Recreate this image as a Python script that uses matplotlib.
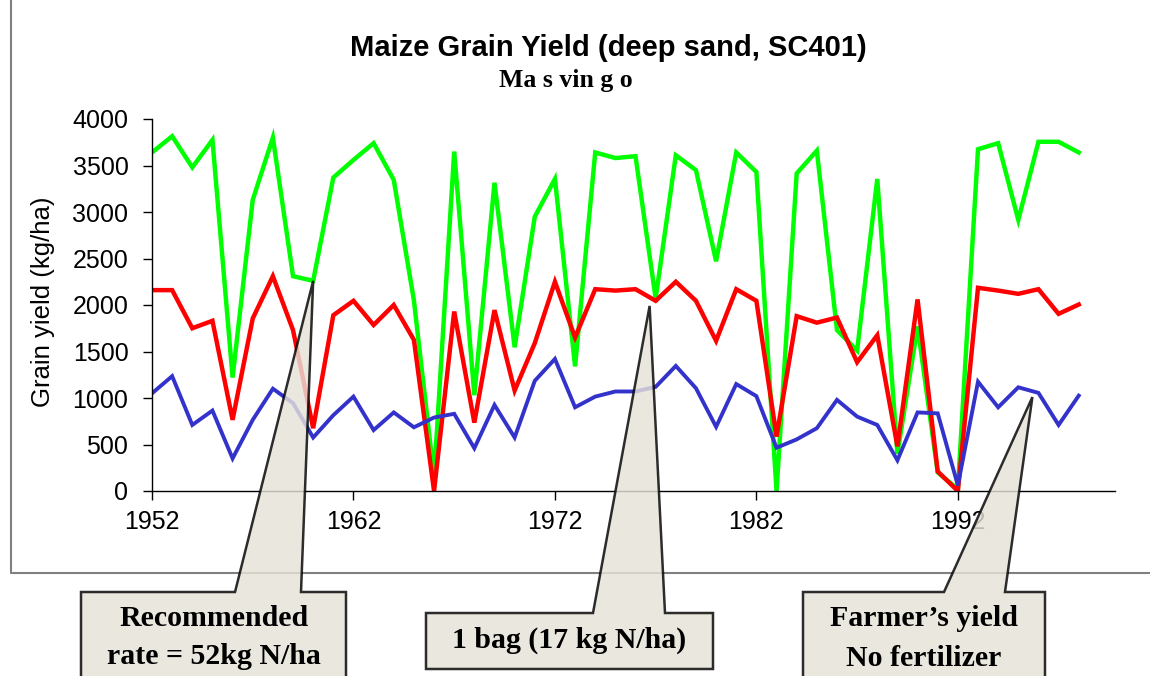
import matplotlib.pyplot as plt
from matplotlib.patches import Polygon
from matplotlib.lines import Line2D

# yearly grain yield, kg/ha
years = list(range(1952, 1999))
recommended = [3640, 3815, 3480, 3775, 1220, 3130, 3800, 2310, 2260, 3370,
               3560, 3740, 3345, 2050, 150, 3650, 1030, 3315, 1545, 2950,
               3355, 1340, 3640, 3580, 3600, 2070, 3610, 3450, 2470, 3640,
               3430, 0, 3415, 3660, 1730, 1510, 3355, 400, 1770, 200,
               20, 3675, 3740, 2915, 3755, 3755, 3640]
one_bag = [2160, 2160, 1750, 1830, 765, 1855, 2310, 1730, 675, 1890,
           2045, 1785, 2000, 1625, 0, 1930, 735, 1945, 1080, 1590,
           2250, 1650, 2170, 2155, 2170, 2045, 2250, 2045, 1615, 2170,
           2045, 585, 1880, 1810, 1865, 1385, 1675, 480, 2060, 210,
           0, 2185, 2155, 2120, 2170, 1905, 2005]
farmer = [1050, 1235, 710, 865, 350, 765, 1100, 945, 575, 815,
          1015, 655, 845, 685, 790, 830, 460, 925, 575, 1185,
          1420, 900, 1015, 1070, 1070, 1120, 1345, 1105, 690, 1150,
          1020, 465, 555, 675, 980, 800, 710, 330, 845, 835,
          60, 1175, 900, 1115, 1055, 710, 1025]

xticks = [1952, 1962, 1972, 1982, 1992]
yticks = [0, 500, 1000, 1500, 2000, 2500, 3000, 3500, 4000]

callout_lines = [["Recommended", "rate = 52kg N/ha"],
                 ["1 bag (17 kg N/ha)"],
                 ["Farmer\u2019s yield", "No fertilizer"]]
# point on the chart each callout points at (year, kg/ha)
callout_tips = [(1960, 2260), (1976.7, 1990), (1995.7, 1010)]

W, H = 1150, 676


def fpos(x, y):
    # pixel (from top-left) -> figure fraction
    return x / W, 1 - y / H


fig = plt.figure(figsize=(W / 100, H / 100), dpi=100)
ax = fig.add_axes([152 / W, 1 - 491 / H, (1115 - 152) / W, 372 / H])

ax.plot(years, recommended, color="#00ff00", lw=3.2, solid_joinstyle="miter")
ax.plot(years, one_bag, color="#ff0000", lw=3.2, solid_joinstyle="miter")
ax.plot(years, farmer, color="#3333cc", lw=2.8, solid_joinstyle="miter")

ax.set_xlim(1952, 1999.8)
ax.set_ylim(0, 4000)
ax.set_xticks(xticks)
ax.set_yticks(yticks)
ax.tick_params(axis="both", length=6.5, width=1, labelsize=18)
ax.tick_params(axis="y", pad=10.5)
ax.tick_params(axis="x", pad=7.5)
for lab in ax.get_xticklabels() + ax.get_yticklabels():
    lab.set_family("Liberation Sans")
ax.spines["top"].set_visible(False)
ax.spines["right"].set_visible(False)
for s in ("left", "bottom"):
    ax.spines[s].set_linewidth(1)

# outer chart frame
fig.add_artist(Line2D([11 / W, 11 / W, 1], [1, 1 - 573 / H, 1 - 573 / H],
                      transform=fig.transFigure, color="#808080", lw=1.5))

fig.text(*fpos(608, 48), "Maize Grain Yield (deep sand, SC401)",
         family="Liberation Sans", weight="bold", fontsize=21,
         ha="center", va="center")
fig.text(*fpos(566, 81), "Ma s vin g o", family="Liberation Serif",
         weight="bold", fontsize=18.5, ha="center", va="center")
fig.text(*fpos(43, 302), "Grain yield (kg/ha)", family="Liberation Sans",
         fontsize=18.5, rotation=90, ha="center", va="center")

# callout boxes: left, top, right, bottom, pointer base left/right (pixels)
boxes = [(81, 592, 346, 700, 235, 301),
         (426, 613, 713, 669, 593, 665),
         (803, 592, 1045, 700, 944, 1005)]
line_y = [[618, 657], [640], [618, 658]]

to_fig = fig.transFigure.inverted()
for (l, t, r, b, bl, br), tip, lines, ys in zip(boxes, callout_tips,
                                               callout_lines, line_y):
    tx, ty = to_fig.transform(ax.transData.transform(tip))
    verts = [fpos(l, t), fpos(bl, t), (tx, ty), fpos(br, t), fpos(r, t),
             fpos(r, b), fpos(l, b)]
    fig.add_artist(Polygon(verts, closed=True, transform=fig.transFigure,
                           facecolor=(0.9, 0.885, 0.85), alpha=0.82,
                           edgecolor="black", lw=1.8, zorder=5))
    cx = (l + r) / 2
    for txt, y in zip(lines, ys):
        fig.text(*fpos(cx, y), txt, family="Liberation Serif", weight="bold",
                 fontsize=21.5, ha="center", va="center", zorder=6)

fig.savefig("out.png", dpi=100)
